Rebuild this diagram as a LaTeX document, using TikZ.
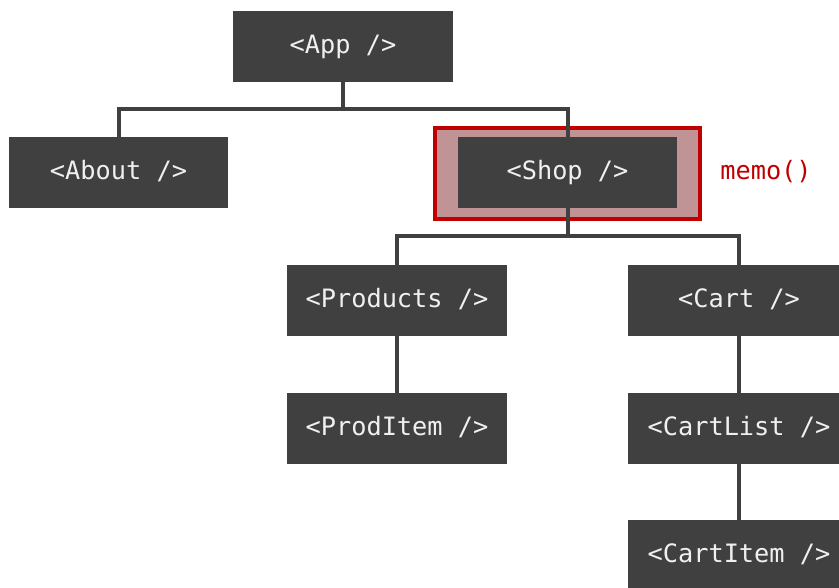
\documentclass[tikz,border=0pt]{standalone}
\usepackage{fontspec}
\setmonofont{DejaVu Sans Mono}
\definecolor{caja}{HTML}{404040}
\definecolor{rojo}{HTML}{C00000}
\definecolor{rosa}{HTML}{C09494}
\tikzset{
  comp/.style={rectangle, fill=caja, text=white!94!black, inner sep=0pt,
    minimum width=4.4cm, minimum height=1.42cm, text height=1em, text depth=0.2em,
    font=\ttfamily\fontsize{14.4}{16}\selectfont},
  rama/.style={draw=caja, line width=0.08cm, line join=miter}
}
\begin{document}
\begin{tikzpicture}[x=0.02cm, y=-0.02cm]
            % Marco de la figura
            \useasboundingbox (0,0) rectangle (839,588);
            \clip (0,0) rectangle (839,588);

            % Resalte de memo()
            \filldraw[fill=rosa, draw=rojo, line width=0.08cm] (435,128) rectangle (700,219);
            \node[text=rojo, inner sep=0pt, text height=1em, text depth=0.2em, font=\ttfamily\fontsize{14.4}{16}\selectfont] (memo) at (766,172.5) {memo()};

            % Componentes
            \node[comp] (app) at (343,46.5) {<App />};
            \node[comp] (about) at (118.5,172.5) {<About />};
            \node[comp] (shop) at (567.5,172.5) {<Shop />};
            \node[comp] (products) at (397,300.5) {<Products />};
            \node[comp] (proditem) at (397,428.5) {<ProdItem />};
            \node[comp, minimum width=4.44cm] (cart) at (739,300.5) {<Cart />};
            \node[comp, minimum width=4.44cm] (cartlist) at (739,428.5) {<CartList />};
            \node[comp, minimum width=4.44cm] (cartitem) at (739,555.5) {<CartItem />};

            % Ramas desde App
            \coordinate (barra1) at (343,109);
            \draw[rama] (app.south) -- (barra1) -| (about.north);
            \draw[rama] (barra1) -| (shop.north);

            % Ramas desde Shop
            \coordinate (barra2) at (567.5,236);
            \draw[rama] (shop.south) -- (barra2) -| (products.north);
            \draw[rama] (barra2) -| (cart.north);

            % Hijos
            \draw[rama] (products.south) -- (proditem.north);
            \draw[rama] (cart.south) -- (cartlist.north);
            \draw[rama] (cartlist.south) -- (cartitem.north);

        \end{tikzpicture}
\end{document}
